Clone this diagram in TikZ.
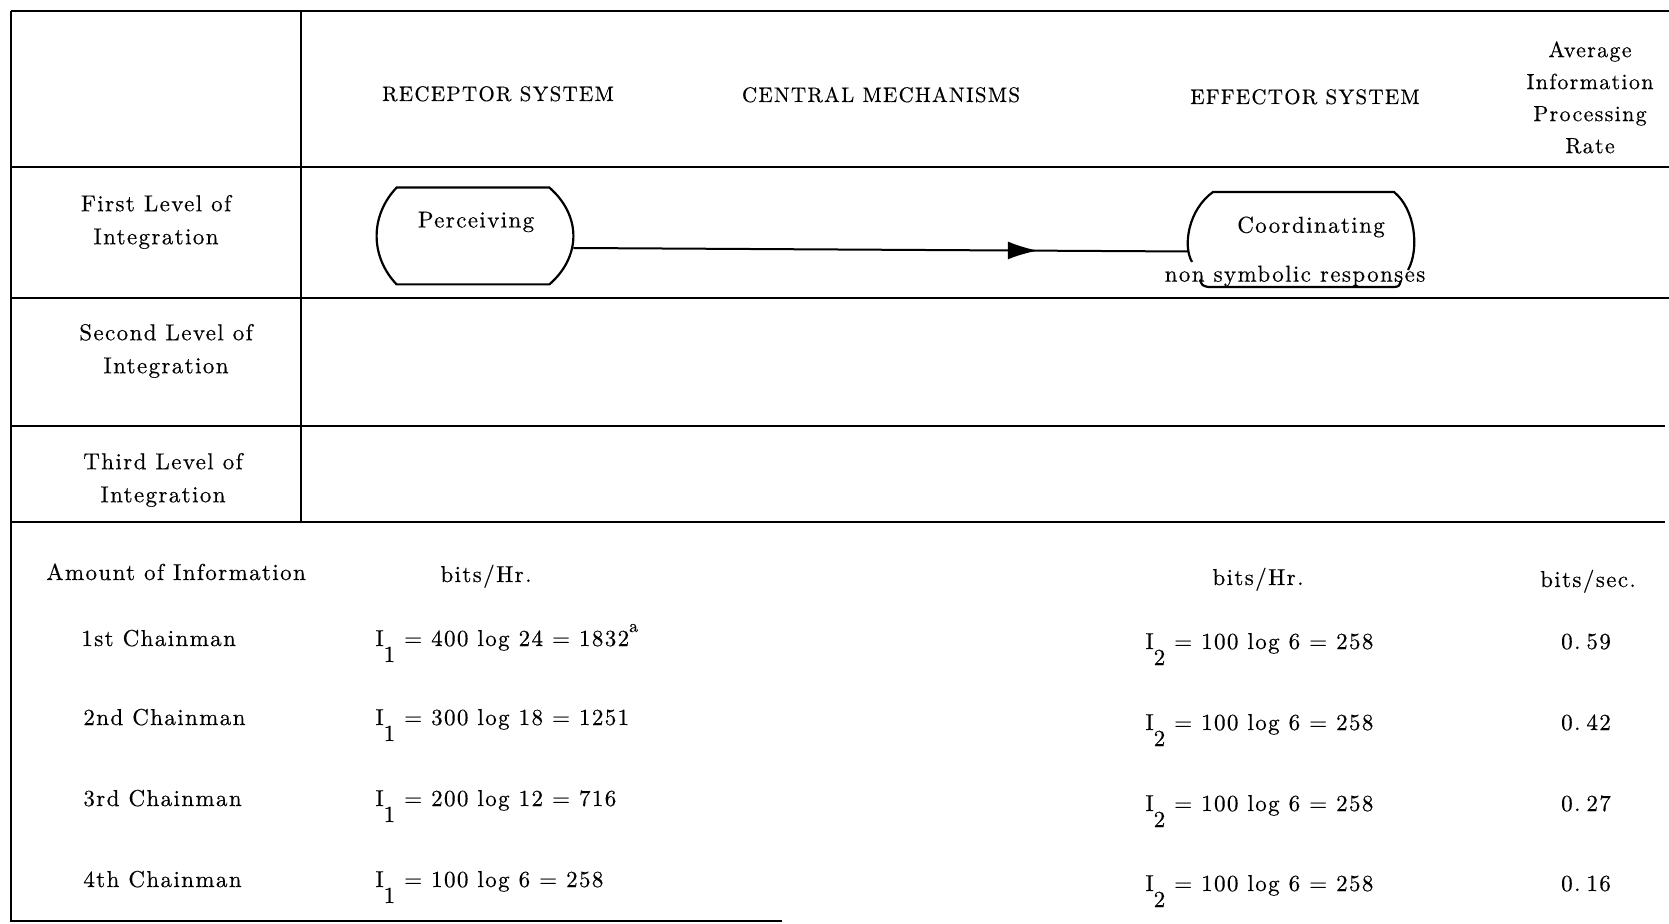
\documentclass[tikz,border=0pt]{standalone}
\usepackage{fontspec}
\setmainfont{lmroman10-regular}[Extension=.otf, LetterSpace=6, FakeBold=0.4]
\usetikzlibrary{calc,arrows.meta,decorations.markings}

\newcommand{\sub}[1]{\raisebox{-8pt}{#1}}
\newcommand{\note}[1]{\raisebox{7pt}{\fontsize{9}{9}\selectfont #1}}

\begin{document}
\begin{tikzpicture}[x=0.5pt,y=-0.5pt,
  rule/.style={line width=1pt},
  barrel/.style={line width=1.1pt},
  lbl/.style={inner sep=0pt, font=\fontsize{11.5}{16.5}\selectfont},
  caps/.style={inner sep=0pt, anchor=base, font=\fontsize{10.5}{16}\selectfont},
  lblc/.style={lbl, align=center},
  lblw/.style={lbl, anchor=base west},
  lblb/.style={lbl, anchor=base},
  shapebox/.style={inner sep=0pt, draw=none},
  flow/.style={line width=1pt, postaction={decorate},
    decoration={markings, mark=at position 0.755 with {\arrow{Latex[length=15pt,width=9pt]}}}}
]
\useasboundingbox (0,0) rectangle (1669,924);

% table frame
\draw[rule] (10.6,10.6) -- (1669,10.6);
\draw[rule] (10.6,10.6) -- (10.6,922);
\draw[rule] (301,10.6) -- (301,522);
\draw[rule] (10.6,167) -- (1669,167);
\draw[rule] (10.6,298) -- (1669,298);
\draw[rule] (10.6,426) -- (1665,426);
\draw[rule] (10.6,522) -- (1665,522);
\draw[rule] (10.6,921) -- (782,921);

% column headings
\node[caps] (hrec) at (498,101) {RECEPTOR SYSTEM};
\node[caps] (hcen) at (881,102) {CENTRAL MECHANISMS};
\node[caps] (heff) at (1305,104) {EFFECTOR SYSTEM};
\node[lblc, font=\fontsize{11}{16}\selectfont] (hrate) at (1590,97.5)
  {Average\\Information\\Processing\\Rate};

% row headings
\node[lblc] (lev1) at (156,222) {First Level of\\Integration};
\node[lblc] (lev2) at (166,351) {Second Level of\\Integration};
\node[lblc] (lev3) at (163,480) {Third Level of\\Integration};

% first level processes
\node[shapebox, minimum width=98pt, minimum height=48pt] (perc) at (475,236) {};
\node[lbl] (perc-t) at (476,222) {Perceiving};
\draw[barrel] ([xshift=10pt]perc.north west) -- ([xshift=-12pt]perc.north east)
  .. controls ([xshift=4pt,yshift=-14pt]perc.north east) and ([xshift=4pt,yshift=14pt]perc.south east)
  .. ([xshift=-12pt]perc.south east) -- ([xshift=10pt]perc.south west)
  .. controls ([xshift=-3.33pt,yshift=14pt]perc.south west) and ([xshift=-3.33pt,yshift=-14pt]perc.north west)
  .. cycle;

\node[shapebox, minimum width=113.5pt, minimum height=47.5pt] (coord) at (1302.5,239.5) {};
\node[lbl] (coord-t) at (1311,227) {Coordinating};
\node[lbl] (coord-r) at (1295,276) {non symbolic responses};
\draw[barrel] ($(coord)+(-110.5,22.5)$)
  .. controls ($(coord)+(-120,6)$) and ($(coord)+(-114,-30)$) .. ($(coord)+(-89.5,-47.5)$)
  -- ($(coord)+(91.5,-47.5)$)
  .. controls ($(coord)+(113,-30)$) and ($(coord)+(117,10)$) .. ($(coord)+(105.5,30.5)$);
\draw[barrel] ($(coord)+(-102.5,40)$) .. controls ($(coord)+(-100.5,46)$) .. ($(coord)+(-94.5,47.5)$)
  -- ($(coord)+(91.5,47.5)$) .. controls ($(coord)+(96.5,47)$) .. ($(coord)+(98.5,41)$);

\draw[flow] ([yshift=-6pt]perc.east) -- ([yshift=-6pt]coord.west);

% amount of information
\node[lblw] (amt) at (46,580) {Amount of Information};
\node[lblb] (u1) at (486,582) {bits/Hr.};
\node[lblb] (u2) at (1258,585) {bits/Hr.};
\node[lblb] (u3) at (1588,587) {bits/sec.};

\node[lblw] (c1) at (81,646) {1st Chainman};
\node[lblw] (c2) at (83,725) {2nd Chainman};
\node[lblw] (c3) at (83,806) {3rd Chainman};
\node[lblw] (c4) at (83,887) {4th Chainman};

\node[lblw] (i11) at (375,646) {I\sub{1}\ = 400 log 24 = 1832\note{a}};
\node[lblw] (i12) at (375,725) {I\sub{1}\ = 300 log 18 = 1251};
\node[lblw] (i13) at (375,806) {I\sub{1}\ = 200 log 12 = 716};
\node[lblw] (i14) at (375,887) {I\sub{1}\ = 100 log 6 = 258};

\node[lblw] (i21) at (1145,649) {I\sub{2}\ = 100 log 6 = 258};
\node[lblw] (i22) at (1145,730) {I\sub{2}\ = 100 log 6 = 258};
\node[lblw] (i23) at (1145,811) {I\sub{2}\ = 100 log 6 = 258};
\node[lblw] (i24) at (1145,891) {I\sub{2}\ = 100 log 6 = 258};

\node[lblb] (r1) at (1586,649) {0.\hspace{3pt}59};
\node[lblb] (r2) at (1586,730) {0.\hspace{3pt}42};
\node[lblb] (r3) at (1586,811) {0.\hspace{3pt}27};
\node[lblb] (r4) at (1586,891) {0.\hspace{3pt}16};
\end{tikzpicture}
\end{document}
